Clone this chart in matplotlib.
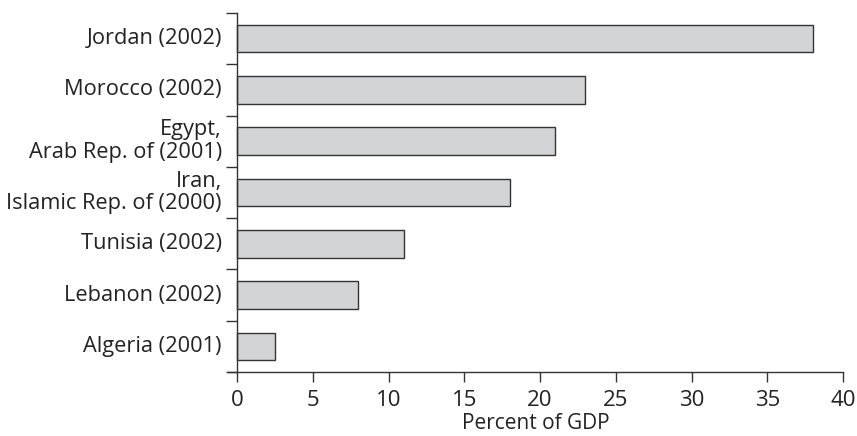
import matplotlib
matplotlib.use("Agg")
import matplotlib.pyplot as plt

categories = ["Jordan (2002)", "Morocco (2002)", "Egypt,\nArab Rep. of (2001)",
              "Iran,\nIslamic Rep. of (2000)", "Tunisia (2002)", "Lebanon (2002)",
              "Algeria (2001)"]
values = [38, 23, 21, 18, 11, 8, 2.5]
xticks = [0, 5, 10, 15, 20, 25, 30, 35, 40]

plt.rcParams['font.family'] = ['Open Sans', 'DejaVu Sans']

fig = plt.figure(figsize=(8.57, 4.36), dpi=100)
ax = fig.add_axes([228/857, 64/436, (843-228)/857, (372-13)/436])

n = len(categories)
ypos = list(range(n))[::-1]
ax.barh(ypos, values, height=0.54, color="#d3d4d6", edgecolor="#333333", linewidth=1.0)

ax.set_xlim(-0.6, 40)
ax.set_ylim(-0.5, n - 0.5)
ax.spines['left'].set_position(('data', 0))
ax.spines['top'].set_visible(False)
ax.spines['right'].set_visible(False)
for s in ['left', 'bottom']:
    ax.spines[s].set_color("#333333")
    ax.spines[s].set_linewidth(1.0)

ax.set_xticks(xticks)
ax.set_xticklabels([str(t) for t in xticks], fontsize=16, color="#222222")
ax.tick_params(axis='x', length=7, width=1, color="#333333", pad=6)

# y ticks at category boundaries, labels at centers
ax.set_yticks([i - 0.5 for i in range(n + 1)])
ax.set_yticklabels([])
ax.tick_params(axis='y', length=8, width=1, color="#333333")
for y, lab in zip(ypos, categories):
    ax.text(-1.0, y, lab, ha='right', va='center', fontsize=15.7,
            color="#222222", linespacing=1.12, transform=ax.transData)

ax.set_xlabel("Percent of GDP", fontsize=15, color="#222222", labelpad=1.5)

fig.savefig("out.png", dpi=100)
